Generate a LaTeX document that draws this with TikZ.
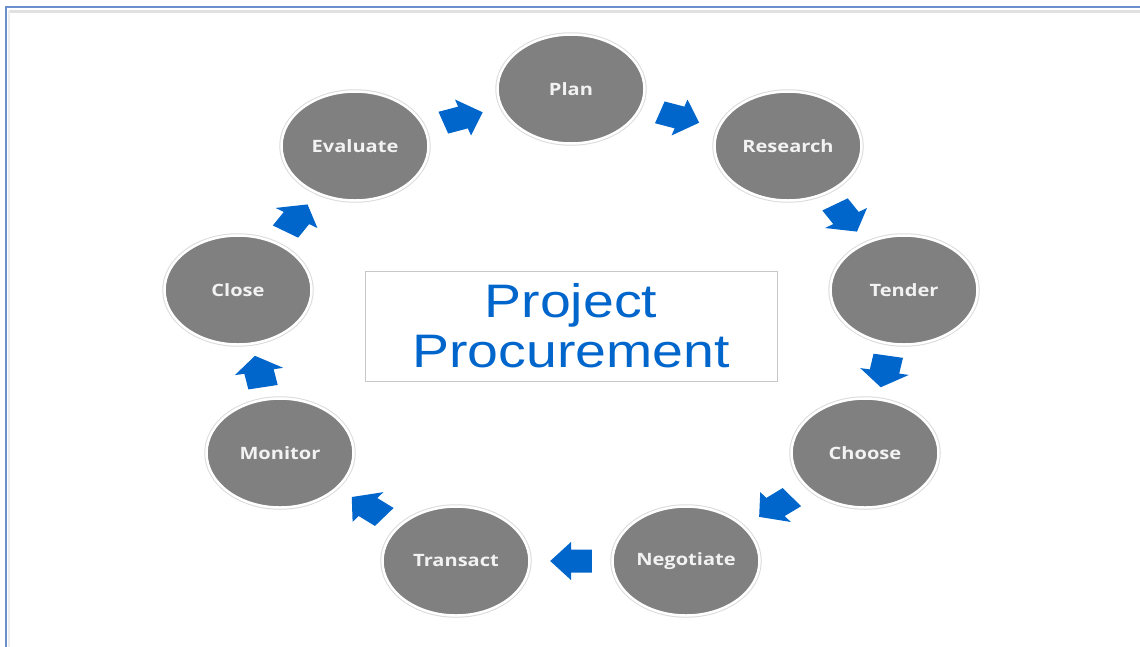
\documentclass[tikz,border=0pt]{standalone}
\usepackage{fontspec}
\usetikzlibrary{shapes.geometric,calc}
\newfontfamily\stagefont[FakeStretch=1.18]{Open Sans}
\newfontfamily\titlefont[FakeStretch=1.18]{Liberation Sans}
\definecolor{stagegray}{HTML}{808080}
\definecolor{flowblue}{HTML}{0066CC}
\definecolor{frameblue}{HTML}{6A8FCC}

% 两个节点之间的方块箭头（整体横向拉伸 1.3）
\newcommand\flowarrow[2]{%
  \path ($(#1)!0.5!(#2)$) coordinate (#1-#2);
  \pgfmathanglebetweenpoints{\pgfpointanchor{#1}{center}}{\pgfpointanchor{#2}{center}}%
  \let\flowbase\pgfmathresult
  \pgfmathsetmacro\flowangle{atan2(sin(\flowbase),cos(\flowbase)/1.3)}%
  \begin{scope}[shift={(#1-#2)}, xscale=1.3, rotate=\flowangle]
    \fill[flowblue] (-16,-11.5) -- (0,-11.5) -- (0,-19) -- (16,0) -- (0,19) -- (0,11.5) -- (-16,11.5) -- cycle;
  \end{scope}}

\begin{document}
\begin{tikzpicture}[
    x=1pt, y=-1pt,
    stage/.style={ellipse, fill=stagegray, draw=white, line width=2.5pt, minimum width=147pt, minimum height=109pt, inner sep=0pt,
        text=white!95!black, font=\stagefont\bfseries\fontsize{17}{20}\selectfont, preaction={draw=black!14, line width=4.5pt}},
    titlebox/.style={draw=black!22, line width=0.8pt, fill=white, minimum width=412pt, minimum height=110pt, align=center,
        text=flowblue, font=\titlefont\fontsize{47}{50}\selectfont}
]
\useasboundingbox (0,0) rectangle (1140,646);
\clip (0,0) rectangle (1140,646);

% 外框
\draw[black!12, line width=3pt] (9,11) -- (1150,11);
\draw[black!7, line width=2pt] (9,11) -- (9,660);
\draw[frameblue, line width=2.5pt] (6,660) -- (6,7) -- (1150,7);

% 中间标题
\node[titlebox] (title) at (571,326) {Project\\Procurement};

% 各阶段节点
\node[stage] (plan) at (571,89) {Plan};
\node[stage] (research) at (788,146) {Research};
\node[stage] (tender) at (904,290) {Tender};
\node[stage] (choose) at (865,453) {Choose};
\node[stage] (negotiate) at (686,561) {Negotiate};
\node[stage] (transact) at (456,561) {Transact};
\node[stage] (monitor) at (280,453) {Monitor};
\node[stage] (close) at (238,290) {Close};
\node[stage] (evaluate) at (355,146) {Evaluate};

% 箭头
\flowarrow{plan}{research}
\flowarrow{research}{tender}
\flowarrow{tender}{choose}
\flowarrow{choose}{negotiate}
\flowarrow{negotiate}{transact}
\flowarrow{transact}{monitor}
\flowarrow{monitor}{close}
\flowarrow{close}{evaluate}
\flowarrow{evaluate}{plan}

\end{tikzpicture}
\end{document}
